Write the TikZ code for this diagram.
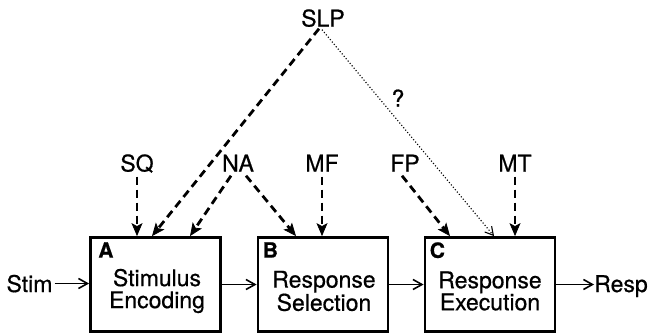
\documentclass[tikz,border=0pt]{standalone}
\usepackage{fontspec}
\setmainfont{TeX Gyre Heros}[FakeBold=0.6]
\usetikzlibrary{arrows.meta,calc}
\tikzset{
  stage/.style={draw, line width=2.8pt, minimum width=130pt, minimum height=94pt, inner sep=0pt},
  stagetext/.style={align=center, inner sep=0pt, font=\fontsize{23}{22}\selectfont},
  lbl/.style={inner sep=0pt, text height=17pt, text depth=0pt, font=\fontsize{23}{23}\selectfont},
  corner/.style={anchor=north west, inner sep=0pt, font=\fontsize{21}{21}\selectfont\bfseries},
  flow/.style={line width=1.6pt, -{Straight Barb[length=9pt,width=10pt,line width=1.6pt]}},
  infl/.style={line width=2.8pt, dash pattern=on 8pt off 5pt, -{Stealth[length=13pt,width=11pt,inset=3pt,line width=0.8pt]}},
  maybe/.style={line width=1.1pt, dash pattern=on 1.1pt off 2pt, -{Straight Barb[length=8pt,width=9pt,line width=1.1pt]}}
}
\begin{document}
\begin{tikzpicture}[x=1pt,y=-1pt]
\useasboundingbox (0,0) rectangle (650,335);
% stages
\node[stage] (A) at (155.5,284.5) {};
\node[stage] (B) at (323,284.5) {};
\node[stage] (C) at (490,284.5) {};
\node[stagetext] (At) at (157,291) {Stimulus\\Encoding};
\node[stagetext] (Bt) at (324,291) {Response\\Selection};
\node[stagetext] (Ct) at (490,291) {Response\\Execution};
\node[corner] (Al) at ([xshift=9pt,yshift=-6pt]A.north west) {A};
\node[corner] (Bl) at ([xshift=6pt,yshift=-6pt]B.north west) {B};
\node[corner] (Cl) at ([xshift=6pt,yshift=-6pt]C.north west) {C};
% labels
\node[lbl] (SLP) at (323,18) {SLP};
\node[lbl] (SQ) at (137,163) {SQ};
\node[lbl] (NA) at (238,163) {NA};
\node[lbl] (MF) at (322,163) {MF};
\node[lbl] (FP) at (405,163) {FP};
\node[lbl] (MT) at (515,163) {MT};
\node[lbl] (Q) at (398,98) {?};
\node[lbl] (Stim) at (29.5,283.5) {Stim};
\node[lbl] (Resp) at (621,283.5) {Resp};
% main flow
\draw[flow] ([xshift=2pt]Stim.east) -- (Stim.east -| A.west);
\draw[flow] (A.east) -- (B.west);
\draw[flow] (B.east) -- (C.west);
\draw[flow] (C.east) -- (C.east -| Resp.west);
% influences
\draw[infl] ([xshift=-4pt,yshift=-2pt]SLP.south) -- ([xshift=-3.5pt]A.north);
\draw[maybe] ([xshift=-1pt,yshift=-3pt]SLP.south) -- ([xshift=4pt]C.north);
\draw[infl] ([yshift=-5pt]SQ.south) -- (SQ.south |- A.north);
\draw[infl] ([xshift=-7pt,yshift=-4pt]NA.south) -- ([xshift=34.5pt]A.north);
\draw[infl] ([xshift=8pt,yshift=-4pt]NA.south) -- ([xshift=-27pt]B.north);
\draw[infl] ([yshift=-5pt]MF.south) -- (MF.south |- B.north);
\draw[infl] ([xshift=-3pt,yshift=-4pt]FP.south) -- ([xshift=-40pt]C.north);
\draw[infl] ([yshift=-5pt]MT.south) -- (MT.south |- C.north);
\end{tikzpicture}
\end{document}
